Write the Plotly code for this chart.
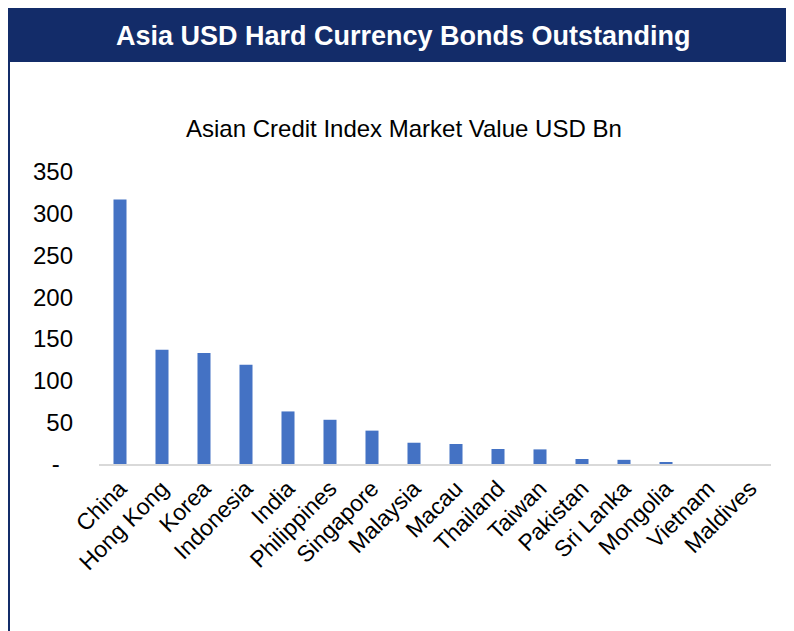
import plotly.graph_objects as go

countries = ["China", "Hong Kong", "Korea", "Indonesia", "India", "Philippines",
             "Singapore", "Malaysia", "Macau", "Thailand", "Taiwan", "Pakistan",
             "Sri Lanka", "Mongolia", "Vietnam", "Maldives"]
market_value = [317, 137, 133, 119, 63, 53, 40, 25.5, 24, 18, 17.5, 6, 5, 2, 0, 0]
y_ticks = [0, 50, 100, 150, 200, 250, 300, 350]
y_tick_labels = ["-\u00a0\u00a0", "50", "100", "150", "200", "250", "300", "350"]

# The page body has an 8px margin; the figure is sized to fill the rest of the window.
OFF = 8
WIDTH, HEIGHT = 794 - OFF, 631 - OFF
L, R, T, B = 99 - OFF, 23, 172 - OFF, 167
PW = WIDTH - L - R
PH = HEIGHT - T - B
NAVY = "#132C69"
FONT = "Liberation Sans, Arial, sans-serif"


def px_x(px):
    return (px - OFF - L) / PW


def px_y(py):
    return (HEIGHT - B - (py - OFF)) / PH


fig = go.Figure(go.Bar(
    x=countries, y=market_value,
    marker=dict(color="#4472C4", line=dict(width=0)),
    width=0.31,
))

fig.update_layout(
    width=WIDTH, height=HEIGHT,
    margin=dict(l=L, r=R, t=T, b=B),
    paper_bgcolor="white", plot_bgcolor="white",
    showlegend=False,
    font=dict(family=FONT, size=23, color="#000000"),
    xaxis=dict(
        showline=True, linecolor="#D9D9D9", linewidth=2,
        showgrid=False, ticks="", tickangle=-45,
        tickfont=dict(size=23, family=FONT, color="#000000"),
        range=[-0.5, len(countries) - 0.5],
    ),
    yaxis=dict(
        range=[0, 350], tickvals=y_ticks, ticktext=y_tick_labels,
        showgrid=False, zeroline=False, showline=False, ticks="",
        tickfont=dict(size=24, family=FONT, color="#000000"),
        ticklabelstandoff=25,
    ),
    shapes=[
        dict(type="rect", xref="paper", yref="paper",
             x0=px_x(4), x1=px_x(800), y0=px_y(62), y1=px_y(8),
             fillcolor=NAVY, line=dict(width=0), layer="below"),
        dict(type="line", xref="paper", yref="paper",
             x0=px_x(9), x1=px_x(9), y0=px_y(62), y1=px_y(640),
             line=dict(color=NAVY, width=2)),
    ],
    annotations=[
        dict(text="<b>Asia USD Hard Currency Bonds Outstanding</b>",
             xref="paper", yref="paper", x=px_x(403), y=px_y(36),
             xanchor="center", yanchor="middle", showarrow=False,
             font=dict(size=27, color="white", family=FONT)),
        dict(text="Asian Credit Index Market Value USD Bn",
             xref="paper", yref="paper", x=px_x(404), y=px_y(128),
             xanchor="center", yanchor="middle", showarrow=False,
             font=dict(size=24, color="#000000", family=FONT)),
    ],
)

fig.write_html("out.html")
